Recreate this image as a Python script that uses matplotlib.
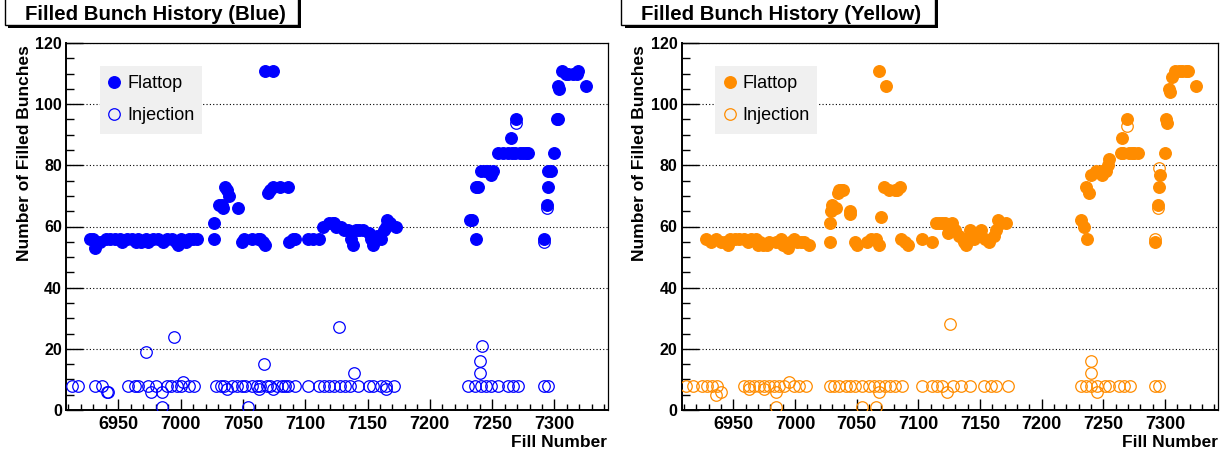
import matplotlib
matplotlib.use("Agg")
import matplotlib.pyplot as plt
from matplotlib.patches import Rectangle
from matplotlib.ticker import MultipleLocator

plt.rcParams['font.family'] = ['Liberation Sans', 'DejaVu Sans']

# fill number / number of filled bunches, blue ring
blue_flat_fill = [6927, 6930, 6931, 6935, 6940, 6943, 6947, 6951, 6953, 6957, 6961, 6964, 6966, 6968,
                  6972, 6974, 6978, 6982, 6986, 6989, 6993, 6996, 6998, 7000, 7004, 7007, 7010, 7013,
                  7027, 7027, 7031, 7033, 7034, 7036, 7037, 7039, 7046, 7049, 7051, 7057, 7062, 7064,
                  7068, 7066, 7068, 7074, 7070, 7072, 7074, 7080, 7086, 7087, 7090, 7092, 7102, 7106,
                  7111, 7114, 7119, 7123, 7122, 7125, 7129, 7131, 7134, 7137, 7137, 7138, 7141, 7143,
                  7146, 7151, 7153, 7154, 7158, 7161, 7163, 7165, 7166, 7168, 7173,
                  7232, 7234, 7237, 7237, 7239, 7241, 7244, 7247, 7249, 7251, 7255, 7259, 7263, 7265,
                  7266, 7269, 7268, 7272, 7275, 7277, 7279,
                  7292, 7294, 7295, 7295, 7297, 7300, 7302, 7303, 7303, 7304, 7306, 7309, 7311, 7315,
                  7318, 7319, 7325]
blue_flat_n = [56, 56, 53, 55, 56, 56, 56, 56, 55, 56, 56, 55, 56, 55,
               56, 55, 56, 56, 55, 56, 56, 55, 54, 56, 55, 56, 56, 56,
               56, 61, 67, 67, 66, 73, 72, 70, 66, 55, 56, 56, 56, 56,
               54, 55, 111, 111, 71, 72, 73, 73, 73, 55, 56, 56, 56, 56,
               56, 60, 61, 61, 61, 60, 60, 59, 59, 58, 56, 54, 59, 59,
               59, 58, 56, 54, 57, 56, 59, 60, 62, 61, 60,
               62, 62, 56, 73, 73, 78, 78, 78, 77, 78, 84, 84, 84, 89,
               84, 95, 84, 84, 84, 84, 84,
               56, 67, 73, 78, 78, 84, 95, 95, 106, 105, 111, 110, 110, 110,
               110, 111, 106]

blue_inj_fill = [6913, 6918, 6931, 6937, 6941, 6942, 6958, 6963, 6966, 6972, 6974, 6976, 6980, 6985,
                 6985, 6989, 6992, 6995, 6997, 7000, 7002, 7007, 7011,
                 7028, 7032, 7035, 7037, 7041, 7045, 7049, 7052, 7054, 7057, 7061, 7063, 7064, 7067,
                 7069, 7072, 7074, 7077, 7081, 7084, 7086, 7092, 7102, 7111, 7115, 7119, 7123, 7127,
                 7128, 7132, 7136, 7139, 7142, 7151, 7154, 7161, 7165, 7165, 7171,
                 7231, 7236, 7240, 7240, 7242, 7241, 7245, 7249, 7255, 7263, 7267, 7269, 7271,
                 7292, 7295, 7292, 7294]
blue_inj_n = [8, 8, 8, 8, 6, 6, 8, 8, 8, 19, 8, 6, 8, 6,
              1, 8, 8, 24, 8, 8, 9, 8, 8,
              8, 8, 8, 7, 8, 8, 8, 8, 1, 8, 8, 7, 8, 15,
              8, 8, 7, 8, 8, 8, 8, 8, 8, 8, 8, 8, 8, 27,
              8, 8, 8, 12, 8, 8, 8, 8, 7, 8, 8,
              8, 8, 12, 16, 21, 8, 8, 8, 8, 8, 8, 94, 8,
              8, 8, 55, 66]

# yellow ring
yellow_flat_fill = [6928, 6932, 6936, 6940, 6943, 6946, 6947, 6951, 6955, 6959, 6962, 6964, 6968, 6970,
                    6972, 6974, 6977, 6979, 6985, 6989, 6990, 6994, 6996, 6999, 7002, 7005, 7007, 7011,
                    7028, 7028, 7029, 7030, 7031, 7033, 7035, 7036, 7037, 7039, 7045, 7045, 7049, 7050,
                    7058, 7062, 7066, 7068, 7070, 7068, 7074, 7072, 7076, 7081, 7083, 7085, 7086, 7089,
                    7092, 7103, 7111, 7114, 7117, 7119, 7122, 7127, 7124, 7130, 7133, 7136, 7137, 7139,
                    7142, 7143, 7145, 7151, 7154, 7157, 7161, 7163, 7165, 7167, 7171,
                    7232, 7234, 7237, 7236, 7238, 7240, 7244, 7248, 7249, 7252, 7255, 7254, 7264, 7266,
                    7271, 7273, 7275, 7278, 7265, 7269,
                    7292, 7294, 7295, 7296, 7300, 7301, 7302, 7303, 7304, 7306, 7308, 7311, 7314, 7317,
                    7319, 7325]
yellow_flat_n = [56, 55, 56, 55, 55, 54, 56, 56, 56, 56, 55, 56, 56, 54,
                 55, 54, 54, 55, 55, 56, 54, 53, 55, 56, 55, 55, 55, 54,
                 55, 61, 65, 67, 66, 66, 71, 72, 72, 72, 65, 64, 55, 54,
                 55, 56, 56, 54, 63, 111, 106, 73, 72, 72, 72, 73, 56, 55,
                 54, 56, 55, 61, 61, 61, 61, 61, 58, 59, 57, 56, 55, 54,
                 59, 57, 56, 59, 56, 55, 57, 59, 62, 61, 61,
                 62, 60, 56, 73, 71, 77, 78, 78, 77, 78, 82, 80, 84, 84,
                 84, 84, 84, 84, 89, 95,
                 55, 67, 73, 77, 84, 95, 94, 105, 104, 109, 111, 111, 111, 111,
                 111, 106]

yellow_inj_fill = [6912, 6917, 6925, 6929, 6933, 6936, 6937, 6940, 6959, 6963, 6963, 6967, 6971, 6975,
                   6975, 6979, 6983, 6985, 6985, 6987, 6991, 6995, 6999, 7003, 7009,
                   7028, 7032, 7036, 7041, 7045, 7049, 7054, 7054, 7060, 7064, 7066, 7068, 7068, 7073,
                   7077, 7081, 7087, 7103, 7111, 7115, 7119, 7123, 7126, 7128, 7135, 7142, 7153, 7159,
                   7163, 7173,
                   7232, 7236, 7240, 7240, 7240, 7245, 7245, 7251, 7255, 7263, 7267, 7272, 7269,
                   7292, 7295, 7292, 7294, 7295]
yellow_inj_n = [8, 8, 8, 8, 8, 5, 8, 6, 8, 8, 7, 8, 8, 8,
                7, 8, 8, 6, 1, 8, 8, 9, 8, 8, 8,
                8, 8, 8, 8, 8, 8, 8, 1, 8, 8, 1, 6, 8, 8,
                8, 8, 8, 8, 8, 8, 8, 6, 28, 8, 8, 8, 8, 8,
                8, 8,
                8, 8, 8, 12, 16, 8, 6, 8, 8, 8, 8, 8, 93,
                8, 8, 56, 66, 79]

W, H = 1231, 455


def px_rect(x0, y0, x1, y1):
    # pixel box (top-left origin) -> figure fraction rect
    return (x0 / W, 1 - y1 / H, (x1 - x0) / W, (y1 - y0) / H)


def title_box(fig, x0, x1, text, text_x):
    # white title pave with a drop shadow, cut by the top edge
    shadow = Rectangle(((x0 + 3.5) / W, 1 - 27.5 / H), (x1 - x0) / W, 28 / H,
                       transform=fig.transFigure, facecolor='black', edgecolor='none')
    box = Rectangle((x0 / W, 1 - 24.5 / H), (x1 - x0) / W, 26 / H,
                    transform=fig.transFigure, facecolor='white', edgecolor='black', lw=1)
    fig.patches.extend([shadow, box])
    fig.text(text_x / W, 1 - 20 / H, text, ha='center', va='baseline',
             fontsize=14.7, fontweight='bold')


def panel(fig, rect, color, flat_x, flat_y, inj_x, inj_y, leg_w):
    ax = fig.add_axes(rect)
    ax.plot(flat_x, flat_y, 'o', color=color, ms=8.3, mec=color, label='Flattop', zorder=3)
    ax.plot(inj_x, inj_y, 'o', color=color, ms=8.3, mfc='none', mew=0.9, label='Injection', zorder=4)
    ax.set_xlim(6908, 7343)
    ax.set_ylim(0, 120)
    ax.xaxis.set_major_locator(MultipleLocator(50))
    ax.xaxis.set_minor_locator(MultipleLocator(10))
    ax.yaxis.set_major_locator(MultipleLocator(20))
    ax.yaxis.set_minor_locator(MultipleLocator(5))
    ax.tick_params(axis='both', which='both', direction='in', top=False, right=False, color='black')
    ax.tick_params(axis='y', which='major', length=12, width=1, pad=3, labelsize=11.5)
    ax.tick_params(axis='y', which='minor', length=6, width=1)
    ax.tick_params(axis='x', which='major', length=8, width=1, pad=4, labelsize=13)
    ax.tick_params(axis='x', which='minor', length=4, width=1)
    for lab in ax.get_xticklabels() + ax.get_yticklabels():
        lab.set_fontweight('bold')
    ax.yaxis.grid(True, linestyle=(0, (1, 2)), color='black', lw=0.8)
    ax.set_axisbelow(True)
    for s in ('left', 'bottom'):
        ax.spines[s].set_linewidth(1.4)
    for s in ('top', 'right'):
        ax.spines[s].set_linewidth(0.9)
    leg = ax.legend(loc='upper left', bbox_to_anchor=(0.0627, 0.937, leg_w, 0), mode='expand',
                    borderaxespad=0, fontsize=13, fancybox=False, framealpha=1,
                    facecolor='#f0f0f0', edgecolor='none', handlelength=0.6,
                    handletextpad=0.4, borderpad=0.5, labelspacing=0.85, numpoints=1)
    leg.get_frame().set_linewidth(0)
    return ax


fig = plt.figure(figsize=(W / 100, H / 100), dpi=100)

panel(fig, px_rect(66, 43, 608, 410), '#0000ff',
      blue_flat_fill, blue_flat_n, blue_inj_fill, blue_inj_n, 0.1876)
panel(fig, px_rect(681.5, 43, 1218, 410), '#ff8c00',
      yellow_flat_fill, yellow_flat_n, yellow_inj_fill, yellow_inj_n, 0.19)

title_box(fig, 4.5, 297.5, 'Filled Bunch History (Blue)', 155)
title_box(fig, 621.5, 935, 'Filled Bunch History (Yellow)', 781)

for xl, xr in ((25, 607), (640, 1218)):
    fig.text(xl / W, 1 - 45 / H, 'Number of Filled Bunches', rotation=90, ha='center', va='top',
             fontsize=12.5, fontweight='bold')
    fig.text(xr / W, 1 - 447 / H, 'Fill Number', ha='right', va='baseline',
             fontsize=12.5, fontweight='bold')

fig.savefig('out.png', dpi=100, facecolor='white')
